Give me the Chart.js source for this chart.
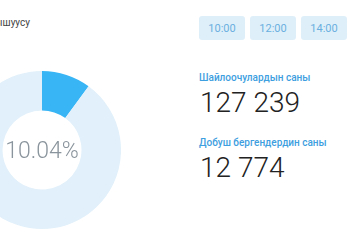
<!DOCTYPE html>
<html lang="ky">
<head>
  <meta charset="UTF-8" />
  <title>Катышуу</title>
  <script src="https://cdn.jsdelivr.net/npm/chart.js@4.4.0/dist/chart.umd.min.js"></script>
  <style>
    *{box-sizing:border-box;margin:0;padding:0}
    html,body{width:350px;height:250px;overflow:hidden;background:#fff;font-family:Roboto,'Noto Sans',sans-serif}
    .title{position:absolute;right:320px;top:17px;font-size:10px;color:#444;white-space:nowrap}
    .donut{position:absolute;left:-37px;top:71px;width:158px;height:158px}
    .pct{position:absolute;left:-37px;top:71px;width:158px;height:158px;display:flex;align-items:center;justify-content:center;font-size:23px;font-weight:300;color:#8a949c}
    .btns{position:absolute;left:199px;top:16px;display:flex;gap:5px}
    .btns button{width:46px;height:24px;border:0;border-radius:3px;background:#dfeff9;color:#6aafe0;font:11px Roboto,sans-serif}
    .stat{position:absolute;left:199px}
    .stat .lbl{font-size:10px;line-height:12px;color:#3d9ee0;font-weight:500}
    .stat .num{position:absolute;left:1px;white-space:nowrap;font-size:28px;font-weight:300;color:#222;line-height:1}
  </style>
</head>
<body>
<div class="title">катышуусу</div>
<div class="donut"><canvas id="donut"></canvas></div>
<div class="pct" id="pct"></div>
<div class="btns" id="btns"></div>
<div class="stat" style="top:72px"><div class="lbl">Шайлоочулардын саны</div><div class="num" id="voters" style="top:17px"></div></div>
<div class="stat" style="top:137px"><div class="lbl">Добуш бергендердин саны</div><div class="num" id="voted" style="top:17px"></div></div>
<script>
// data
const times=['10:00','12:00','14:00'];
const labels=['Добуш бергендер','Калгандар'];
const totalVoters=127239;
const voted=12774;
const values=[voted,totalVoters-voted];
const colors=['#38b5f5','#e1f0fa'];

const fmt=n=>String(n).replace(/\B(?=(\d{3})+(?!\d))/g,' ');
document.getElementById('voters').textContent=fmt(totalVoters);
document.getElementById('voted').textContent=fmt(voted);
document.getElementById('pct').textContent=(voted/totalVoters*100).toFixed(2)+'%';
document.getElementById('btns').innerHTML=times.map(t=>`<button>${t}</button>`).join('');

new Chart('donut',{type:'doughnut',
  data:{labels,datasets:[{data:values,backgroundColor:colors,borderWidth:0,hoverOffset:0}]},
  options:{responsive:true,maintainAspectRatio:false,animation:false,cutout:'50%',layout:{padding:0},
    plugins:{legend:{display:false},tooltip:{enabled:false}}}});
</script>
</body>
</html>
